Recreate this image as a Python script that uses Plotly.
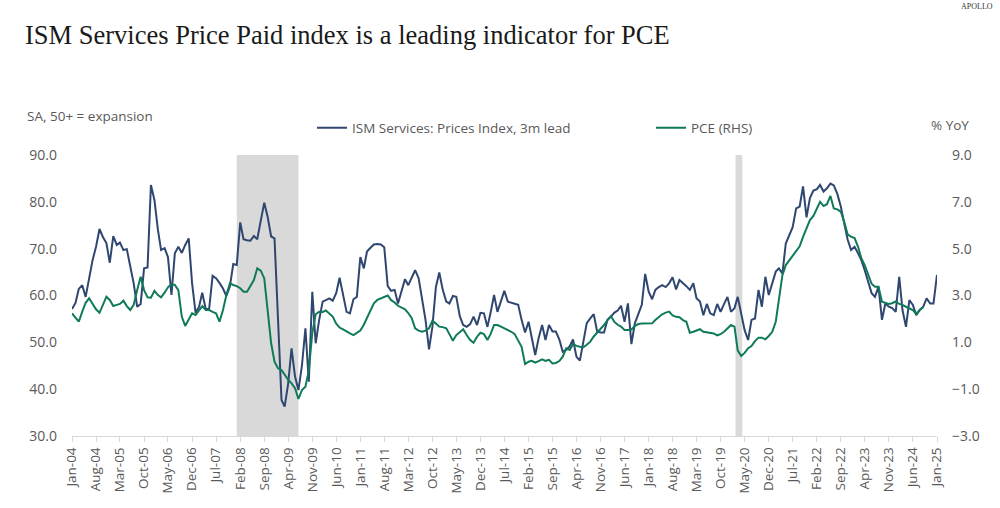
import pandas as pd
import plotly.graph_objects as go

# ISM Services Prices Index, 3m lead (monthly, Jan-04 .. Jan-25)
ism = [
    57.1, 58.4, 61.4, 62.2, 59.7, 64.0, 67.5, 70.4, 74.2, 72.5, 71.2, 67.0,   # 2004
    72.7, 70.8, 71.3, 69.7, 69.9, 66.2, 62.6, 57.6, 58.2, 65.8, 66.0, 83.6,   # 2005
    80.4, 74.0, 69.7, 70.1, 68.2, 60.1, 69.0, 70.4, 69.1, 70.8, 72.2, 62.6,   # 2006
    56.3, 57.6, 60.6, 57.1, 57.1, 64.2, 63.7, 62.7, 61.5, 59.9, 61.9, 66.7,   # 2007
    66.5, 75.6, 72.0, 71.8, 71.7, 72.7, 72.0, 76.0, 79.8, 76.8, 72.6, 72.2,   # 2008
    54.1, 37.7, 36.3, 41.2, 48.7, 42.7, 39.8, 45.0, 53.0, 41.6, 60.8, 49.8,   # 2009
    54.8, 58.7, 59.0, 59.4, 58.9, 60.5, 63.8, 60.5, 56.5, 56.2, 59.2, 59.7,   # 2010
    68.2, 65.8, 69.4, 70.2, 70.9, 71.0, 70.9, 70.3, 62.0, 61.0, 61.2, 58.3,   # 2011
    61.0, 63.5, 62.2, 63.8, 65.4, 63.7, 59.0, 54.8, 48.5, 53.3, 61.8, 64.9,   # 2012
    61.2, 58.7, 58.3, 59.9, 59.7, 55.6, 53.7, 53.3, 53.9, 55.5, 53.7, 56.3,   # 2013
    56.2, 53.3, 56.3, 60.1, 56.5, 58.7, 61.0, 58.7, 58.5, 58.2, 58.0, 54.8,   # 2014
    52.1, 54.4, 51.2, 47.3, 50.9, 53.7, 50.5, 53.7, 52.3, 52.3, 50.6, 48.0,   # 2015
    48.4, 49.2, 50.6, 46.9, 46.1, 50.5, 54.1, 55.1, 56.0, 52.3, 52.1, 52.1,   # 2016
    54.8, 55.5, 56.3, 56.8, 57.8, 54.4, 58.3, 49.6, 54.1, 56.0, 58.0, 64.6,   # 2017
    60.8, 59.2, 61.2, 61.8, 62.2, 61.8, 62.6, 63.9, 61.3, 63.3, 62.7, 62.0,   # 2018
    61.2, 62.6, 59.4, 58.7, 55.8, 58.2, 56.2, 55.8, 58.2, 56.5, 58.2, 59.7,   # 2019
    56.5, 57.3, 59.7, 56.2, 52.6, 50.5, 54.8, 55.1, 61.2, 57.6, 64.0, 60.1,   # 2020
    62.6, 65.1, 65.8, 64.7, 71.1, 72.9, 74.6, 78.6, 79.0, 83.3, 76.7, 80.8,   # 2021
    82.4, 82.7, 83.6, 82.2, 82.9, 83.9, 83.5, 81.7, 79.0, 75.4, 71.9, 69.7,   # 2022
    70.4, 69.0, 67.6, 65.4, 62.9, 60.5, 59.7, 61.9, 54.8, 58.3, 57.6, 57.3,   # 2023
    56.5, 64.0, 56.9, 53.3, 59.0, 58.0, 55.8, 56.9, 57.6, 59.4, 58.3, 58.3,   # 2024
    64.4,                                                                      # 2025
]

# PCE, % YoY (monthly, Jan-04 .. Sep-24)
pce = [
    2.24, 2.03, 1.88, 2.31, 2.69, 2.88, 2.64, 2.41, 2.26, 2.64, 2.95, 2.81,   # 2004
    2.55, 2.60, 2.64, 2.78, 2.55, 2.38, 2.60, 3.23, 3.80, 3.23, 2.92, 2.91,   # 2005
    3.20, 3.02, 2.92, 3.12, 3.35, 3.49, 3.45, 3.23, 2.09, 1.70, 1.95, 2.24,   # 2006
    2.17, 2.38, 2.55, 2.38, 2.38, 2.30, 2.24, 1.88, 2.38, 3.02, 3.52, 3.45,   # 2007
    3.40, 3.31, 3.16, 3.16, 3.40, 3.66, 4.16, 4.06, 3.73, 2.38, 0.96, 0.17,   # 2008
    -0.11, -0.18, -0.40, -0.60, -0.75, -0.96, -1.42, -1.04, -0.90, -0.20, 1.40, 2.20,  # 2009
    2.31, 2.30, 2.36, 2.24, 2.10, 1.80, 1.63, 1.55, 1.45, 1.38, 1.31, 1.40,   # 2010
    1.50, 1.75, 2.05, 2.40, 2.67, 2.81, 2.88, 2.95, 3.00, 2.80, 2.70, 2.56,   # 2011
    2.50, 2.41, 2.25, 2.03, 1.60, 1.50, 1.45, 1.50, 1.60, 1.92, 1.80, 1.67,   # 2012
    1.65, 1.60, 1.35, 1.07, 1.31, 1.45, 1.56, 1.31, 1.10, 0.98, 1.24, 1.41,   # 2013
    1.35, 1.10, 1.35, 1.74, 1.74, 1.67, 1.60, 1.53, 1.45, 1.35, 1.10, 0.81,   # 2014
    0.07, 0.17, 0.21, 0.13, 0.20, 0.27, 0.21, 0.25, 0.10, 0.12, 0.20, 0.39,   # 2015
    0.74, 0.67, 0.93, 0.85, 0.81, 0.79, 0.90, 1.03, 1.25, 1.40, 1.55, 1.74,   # 2016
    1.95, 2.12, 1.88, 1.75, 1.67, 1.53, 1.53, 1.55, 1.70, 1.78, 1.80, 1.81,   # 2017
    1.81, 1.81, 1.95, 2.07, 2.20, 2.27, 2.31, 2.15, 2.09, 2.07, 1.95, 1.88,   # 2018
    1.41, 1.45, 1.50, 1.56, 1.45, 1.43, 1.41, 1.38, 1.30, 1.35, 1.45, 1.60,   # 2019
    1.74, 1.67, 0.65, 0.42, 0.55, 0.75, 0.84, 1.05, 1.20, 1.20, 1.13, 1.27,   # 2020
    1.45, 1.88, 2.81, 3.87, 4.30, 4.50, 4.70, 4.87, 5.10, 5.50, 5.91, 6.22,   # 2021
    6.40, 6.70, 7.00, 6.82, 6.90, 7.25, 6.72, 6.68, 6.58, 6.15, 5.60, 5.51,   # 2022
    5.45, 5.08, 4.60, 4.30, 3.90, 3.50, 3.37, 3.37, 2.73, 2.69, 2.64, 2.67,   # 2023
    2.75, 2.64, 2.60, 2.52, 2.45, 2.38, 2.21, 2.38, 2.50,                     # 2024
]

# Recession periods (shaded)
rec_start = ["2008-01-01", "2020-02-10"]
rec_end = ["2009-07-01", "2020-04-10"]

ism_dates = pd.date_range("2004-01-01", periods=len(ism), freq="MS")
pce_dates = pd.date_range("2004-01-01", periods=len(pce), freq="MS")

ISM_COLOR = "#2f4770"
PCE_COLOR = "#0f7a5a"
TXT = "#595959"
FONT = "Open Sans"

fig = go.Figure()
fig.add_trace(go.Scatter(x=ism_dates, y=ism, mode="lines", name="ISM Services: Prices Index, 3m lead",
                         line=dict(color=ISM_COLOR, width=2), yaxis="y", legend="legend"))
fig.add_trace(go.Scatter(x=pce_dates, y=pce, mode="lines", name="PCE (RHS)",
                         line=dict(color=PCE_COLOR, width=2), yaxis="y2", legend="legend2"))

for s, e in zip(rec_start, rec_end):
    fig.add_shape(type="rect", xref="x", yref="paper", x0=s, x1=e, y0=0, y1=1,
                  fillcolor="#d9d9d9", line=dict(width=0), layer="below")

leg_common = dict(orientation="h", xanchor="left", yanchor="middle", y=1 + (155 - 128) / 281,
                  font=dict(size=13.5, color=TXT), bgcolor="rgba(0,0,0,0)",
                  itemwidth=30, tracegroupgap=0)

fig.update_layout(
    width=1000, height=508,
    margin=dict(l=72, r=63, t=155, b=72),
    paper_bgcolor="white", plot_bgcolor="white",
    font=dict(family=FONT, color=TXT, size=13),
    showlegend=True,
    legend=dict(x=(312 - 72) / 865, **leg_common),
    legend2=dict(x=(651 - 72) / 865, **leg_common),
    title=dict(text="ISM Services Price Paid index is a leading indicator for PCE",
               x=0.025, xanchor="left", xref="container",
               y=1 - 35 / 508, yanchor="middle", yref="container",
               font=dict(family="Liberation Serif", size=26.5, color="#1a1a1a")),
    xaxis=dict(type="date", range=["2004-01-01", "2025-01-01"],
               tick0="2004-01-01", dtick="M7", tickformat="%b-%y", tickangle=-90,
               showgrid=False, zeroline=False, showline=True, linecolor="#d9d9d9", linewidth=1,
               ticks="outside", ticklen=5, tickcolor="#d9d9d9",
               tickfont=dict(size=13.5, color=TXT)),
    yaxis=dict(range=[30, 90], dtick=10, tick0=30, tickformat=".1f",
               showgrid=False, zeroline=False, showline=False,
               ticklabelstandoff=14, tickfont=dict(size=14, color=TXT)),
    yaxis2=dict(range=[-3, 9], dtick=2, tick0=-3, tickformat=".1f", overlaying="y", side="right",
                showgrid=False, zeroline=False, showline=False,
                ticklabelstandoff=14, tickfont=dict(size=14, color=TXT)),
    annotations=[
        dict(text="SA, 50+ = expansion", xref="paper", yref="paper",
             x=-47 / 865, y=1 + (155 - 116) / 281, xanchor="left", yanchor="middle",
             showarrow=False, font=dict(size=13.5, color=TXT)),
        dict(text="% YoY", xref="paper", yref="paper",
             x=1 + (971 - 937) / 865, y=1 + (155 - 125) / 281, xanchor="right", yanchor="middle",
             showarrow=False, font=dict(size=13.5, color=TXT)),
        dict(text="APOLLO", xref="paper", yref="paper",
             x=1 + (995 - 937) / 865, y=1 + (155 - 7) / 281, xanchor="right", yanchor="middle",
             showarrow=False, font=dict(family="Liberation Serif", size=8, color="#333333")),
    ],
)

fig.write_html("out.html")
